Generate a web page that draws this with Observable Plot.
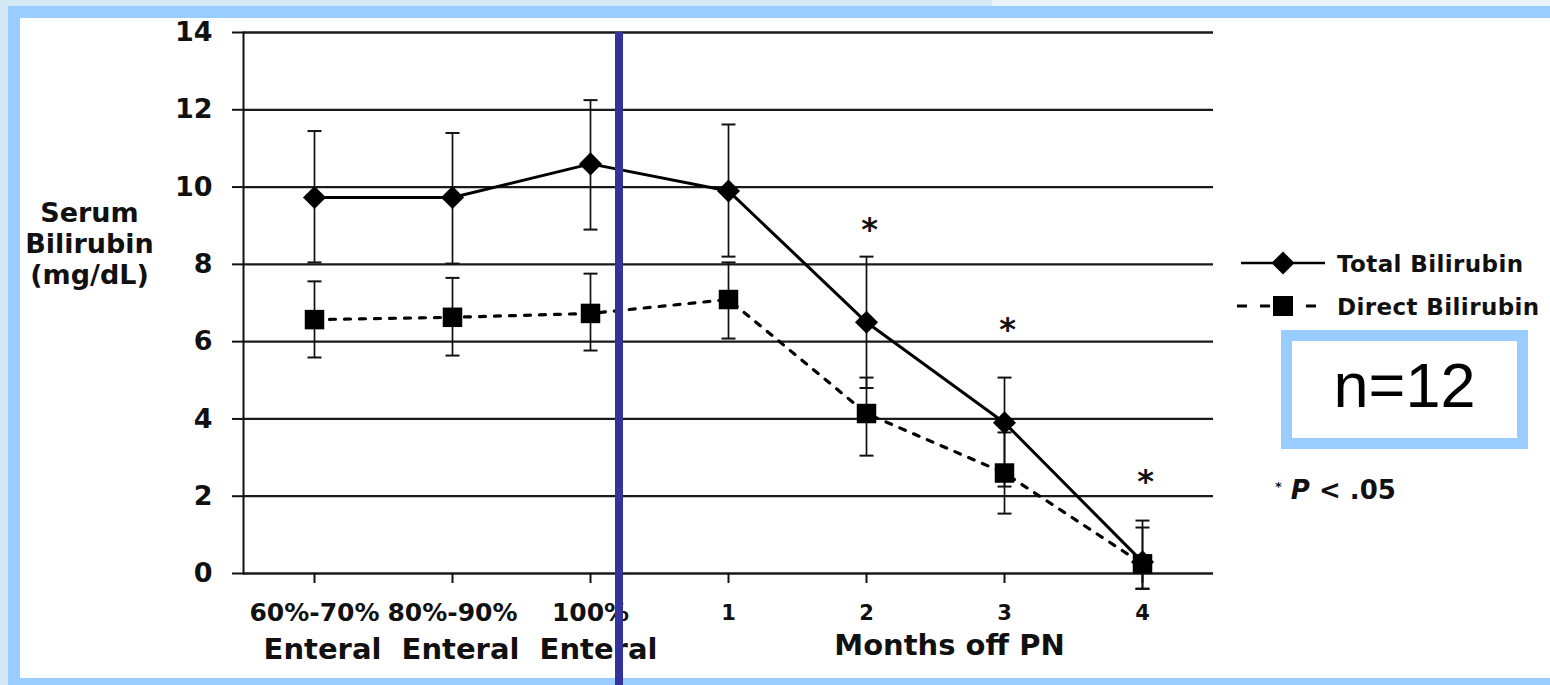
<!DOCTYPE html>
<html>
<head>
<meta charset="utf-8">
<script src="https://cdn.jsdelivr.net/npm/d3@7"></script>
<script src="https://cdn.jsdelivr.net/npm/@observablehq/plot@0.6"></script>
<style>
  html, body { margin: 0; padding: 0; }
  body { width: 1550px; height: 685px; position: relative; overflow: hidden;
         background: linear-gradient(90deg, #d5e9f5 0%, #d5e9f5 64%, #e6f3fb 64%, #e6f3fb 100%); }
  #frame { position: absolute; left: 8px; top: 6px; width: 1600px; height: 660px;
           border: 12px solid #99ccff; background: #ffffff; }
  #chart { position: absolute; left: 0; top: 0; }
  #nbox { position: absolute; left: 1281px; top: 330px; width: 247px; height: 119px; box-sizing: border-box;
          border: 11px solid #99ccff; background: #fff; }
  #nbox span { position: absolute; left: 0; right: 0; top: 13px; text-align: center;
               font-family: "Liberation Sans", Arial, sans-serif; font-size: 63px; line-height: 1; color: #000; }
  #legend { position: absolute; left: 0; top: 0; pointer-events: none; }
  #pnote { position: absolute; left: 1275px; top: 477px; font-family: "DejaVu Sans", sans-serif;
           font-weight: bold; font-size: 26px; line-height: 1; color: #111; white-space: nowrap; }
  #pnote sup { font-size: 13px; vertical-align: 8px; margin-right: 9px; }
</style>
</head>
<body>
<div id="frame"></div>
<div id="chart"></div>
<div id="nbox"><span id="ntext"></span></div>
<div id="pnote"></div>
<script>
// ---- data ----
const categories = ["60%-70%", "80%-90%", "100%", "1", "2", "3", "4"];
const enteralCats = ["60%-70%", "80%-90%", "100%"];
const monthCats = ["1", "2", "3", "4"];
const enteralSubLabel = "Enteral";
const yTicks = [0, 2, 4, 6, 8, 10, 12, 14];
const totalMean = [9.73, 9.73, 10.6, 9.9, 6.5, 3.9, 0.3];
const totalHi   = [11.45, 11.4, 12.25, 11.62, 8.2, 5.07, 1.37];
const totalLo   = [8.05, 8.02, 8.9, 8.2, 4.8, 2.25, -0.39];
const directMean = [6.57, 6.63, 6.73, 7.09, 4.14, 2.6, 0.25];
const directHi   = [7.56, 7.65, 7.76, 8.05, 5.07, 3.65, 1.19];
const directLo   = [5.59, 5.64, 5.77, 6.08, 3.05, 1.55, -0.4];
const sigCats = ["2", "3", "4"];
const sigY = [9.05, 6.47, 2.54];
const seriesNames = ["Total Bilirubin", "Direct Bilirubin"];
const yLabel = "Serum\nBilirubin\n(mg/dL)";
const xLabel = "Months off PN";
const nLabel = "n=12";
const dividerAfter = "100%";

// ---- tables ----
const rows = categories.map((c, i) => ({
  cat: c, total: totalMean[i], tHi: totalHi[i], tLo: totalLo[i],
  direct: directMean[i], dHi: directHi[i], dLo: directLo[i]
}));
const sig = sigCats.map((c, i) => ({cat: c, y: sigY[i]}));

// horizontal cap symbol for error bars
const capSymbol = {draw(ctx, size) { const h = Math.sqrt(size) / 2; ctx.moveTo(-h, 0); ctx.lineTo(h, 0); }};
const capR = Math.sqrt(196 / Math.PI); // 14px wide cap
const capOpts = {symbol: capSymbol, r: capR, stroke: "#111", strokeWidth: 2, fill: "none"};

const chart = Plot.plot({
  width: 1550, height: 685,
  marginLeft: 243, marginRight: 337, marginTop: 32, marginBottom: 112,
  style: {background: "transparent", fontFamily: "DejaVu Sans, sans-serif", overflow: "visible", color: "#111"},
  x: {type: "point", domain: categories, padding: 0.5, axis: null},
  y: {domain: [0, 14], axis: null},
  marks: [
    Plot.ruleY(yTicks, {stroke: "#1a1a1a", strokeWidth: 2.3}),
    Plot.frame({anchor: "left", stroke: "#111", strokeWidth: 2}),
    Plot.axisY({ticks: yTicks, tickSize: 11, tickPadding: 20, fontSize: 27, fontWeight: "bold",
                strokeWidth: 2, label: null}),
    Plot.axisX({ticks: enteralCats, tickSize: 10, tickPadding: 20, fontSize: 25,
                fontWeight: "bold", strokeWidth: 2, label: null}),
    Plot.text(enteralCats, {x: d => d, text: () => enteralSubLabel, frameAnchor: "bottom", dy: 76, dx: 8,
                fontSize: 29, fontWeight: "bold", lineAnchor: "middle"}),
    Plot.axisX({ticks: monthCats, tickSize: 10, tickPadding: 22, fontSize: 21,
                fontWeight: "bold", strokeWidth: 2, label: null}),
    Plot.text([xLabel], {frameAnchor: "bottom", x: () => "3", dx: -55, dy: 72, text: d => d,
                fontSize: 29, fontWeight: "bold", lineAnchor: "middle"}),
    Plot.text([yLabel], {frameAnchor: "left", dx: -154, dy: -60, text: d => d, fontSize: 27,
                fontWeight: "bold", lineHeight: 1.15, textAnchor: "middle", lineAnchor: "middle"}),
    // error bars
    Plot.ruleX(rows, {x: "cat", y1: "tLo", y2: "tHi", stroke: "#111", strokeWidth: 1.7}),
    Plot.dot(rows, {x: "cat", y: "tHi", ...capOpts}),
    Plot.dot(rows, {x: "cat", y: "tLo", ...capOpts}),
    Plot.ruleX(rows, {x: "cat", y1: "dLo", y2: "dHi", stroke: "#111", strokeWidth: 1.7}),
    Plot.dot(rows, {x: "cat", y: "dHi", ...capOpts}),
    Plot.dot(rows, {x: "cat", y: "dLo", ...capOpts}),
    // lines
    Plot.line(rows, {x: "cat", y: "direct", stroke: "#000", strokeWidth: 3.2, strokeDasharray: "6,9"}),
    Plot.line(rows, {x: "cat", y: "total", stroke: "#000", strokeWidth: 3}),
    Plot.dot(rows, {x: "cat", y: "direct", symbol: "square", r: 11, fill: "#000", stroke: "none"}),
    Plot.dot(rows, {x: "cat", y: "total", symbol: "diamond2", r: 10.4, fill: "#000", stroke: "none"}),
    // significance marks
    Plot.text(sig, {x: "cat", y: "y", text: () => "*", dx: 3, dy: 6, fontSize: 32, fontWeight: "bold", fill: "#111"}),
    // divider
    Plot.ruleX([dividerAfter], {x: d => d, dx: 28.5, y1: 14, y2: -3, stroke: "#333399", strokeWidth: 8})
  ]
});
document.getElementById("chart").appendChild(chart);

// ---- legend ----
const leg = d3.select("body").append("svg").attr("id", "legend").attr("width", 1550).attr("height", 685);
const legRows = [
  {name: seriesNames[0], y: 263, dash: null, sym: d3.symbolDiamond2, size: 338},
  {name: seriesNames[1], y: 306, dash: "10,13", sym: d3.symbolSquare, size: 400}
];
legRows.forEach((r, i) => {
  leg.append("line").attr("x1", i ? 1237 : 1241).attr("x2", i ? 1322 : 1325)
    .attr("y1", r.y).attr("y2", r.y).attr("stroke", "#000").attr("stroke-width", i ? 3 : 2.5)
    .attr("stroke-dasharray", r.dash);
  leg.append("path").attr("d", d3.symbol(r.sym, r.size)()).attr("transform", `translate(1283,${r.y})`).attr("fill", "#000");
  leg.append("text").attr("x", 1337).attr("y", r.y + 9).attr("font-family", "DejaVu Sans, sans-serif")
    .attr("font-weight", "bold").attr("font-size", 23).attr("letter-spacing", 0.4)
    .attr("fill", "#111").text(r.name);
});

document.getElementById("ntext").textContent = nLabel;
document.getElementById("pnote").innerHTML = '<sup>*</sup><i>P</i> &lt; .05';
</script>
</body>
</html>
